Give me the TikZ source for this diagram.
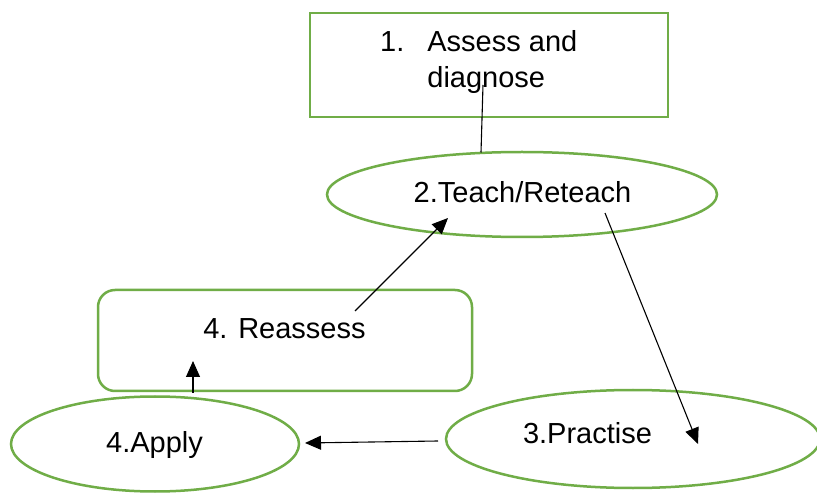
\documentclass[tikz,border=0pt]{standalone}
\usepackage{fontspec}
\setmainfont{Liberation Sans}
\usetikzlibrary{shapes.geometric,arrows.meta}
\begin{document}
\begin{tikzpicture}[x=1pt,y=-1pt,
  stage/.style={draw=stagegreen,line width=2.5pt,inner sep=0pt},
  boxstage/.style={stage,rectangle},
  ovalstage/.style={stage,ellipse},
  caption/.style={inner sep=0pt,font=\fontsize{29}{36}\selectfont},
  flow/.style={line width=1.1pt,-{Triangle[length=16pt,width=14pt]}},
  link/.style={line width=1.1pt}]
\definecolor{stagegreen}{HTML}{70AD47}
\useasboundingbox[fill=white] (0,0) rectangle (817,494);

% stage outlines
\node[boxstage,minimum width=358pt,minimum height=104pt] (assess) at (489,65) {};
\node[ovalstage,minimum width=390pt,minimum height=85pt] (teach) at (522,194.5) {};
\node[boxstage,rounded corners=17pt,minimum width=374pt,minimum height=101pt] (reassess) at (285,340.5) {};
\node[ovalstage,minimum width=288pt,minimum height=95pt] (apply) at (155,444) {};
\node[ovalstage,minimum width=374pt,minimum height=98pt] (practise) at (633,439) {};

% stage captions
\node[caption,anchor=base west] (assesstext) at (380,52)
  {\begin{tabular}[t]{@{}l@{\hspace{23pt}}l@{}}1.&Assess and\\&diagnose\end{tabular}};
\node[caption,anchor=base] (teachtext) at (522.5,203) {2.Teach/Reteach};
\node[caption,anchor=base] (reassesstext) at (284.5,339) {4. Reassess};
\node[caption,anchor=base] (applytext) at (154.5,452) {4.Apply};
\node[caption,anchor=base] (practisetext) at (587.5,443) {3.Practise};

% connector end points
\coordinate (assessout) at (483,85);
\coordinate (teachtop) at (481,152.5);
\coordinate (teachout) at (605,213);
\coordinate (practisein) at (698,444);
\coordinate (practiseout) at (438,441);
\coordinate (applyin) at (305,443);
\coordinate (applyout) at (193,393);
\coordinate (reassessin) at (193,361);
\coordinate (reassessout) at (355,311);
\coordinate (teachin) at (448,218);

% connectors
\draw[link] (assessout) -- (teachtop);
\draw[flow] (teachout) -- (practisein);
\draw[flow] (practiseout) -- (applyin);
\draw[flow] (applyout) -- (reassessin);
\draw[flow] (reassessout) -- (teachin);
\end{tikzpicture}
\end{document}
